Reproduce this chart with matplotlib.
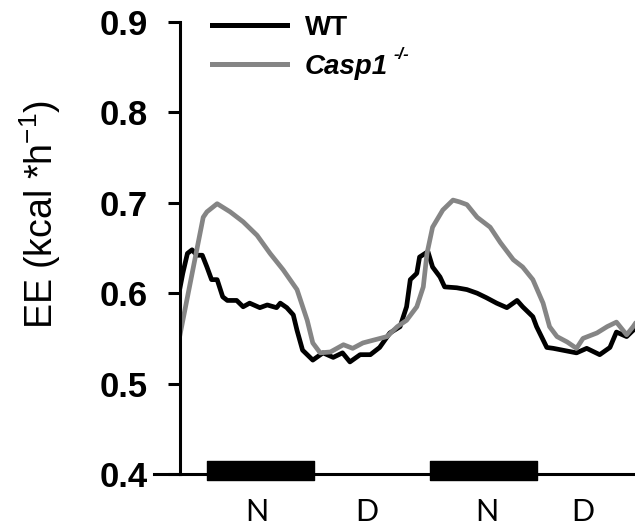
import matplotlib
matplotlib.use("Agg")
import matplotlib.pyplot as plt

plt.rcParams['font.family'] = ['Liberation Sans', 'DejaVu Sans']
plt.rcParams['mathtext.fontset'] = 'custom'
plt.rcParams['mathtext.rm'] = 'Liberation Sans'
plt.rcParams['mathtext.it'] = 'Liberation Sans:italic'
plt.rcParams['mathtext.bf'] = 'Liberation Sans:bold'

# energy expenditure traces, hours from start of recording
wt_h = [0, 0.3, 0.8, 1.3, 1.8, 2.4, 2.9, 3.4, 4.0, 4.6,
        5.1, 6.1, 6.8, 7.5, 8.6, 9.4, 10.4, 10.8, 11.5, 12.2,
        12.6, 13.2, 14.3, 15.4, 16.5, 17.5, 18.3, 19.4, 20.5, 21.5,
        22.6, 23.7, 24.4, 24.8, 25.5, 25.8, 26.7, 27.2, 28.0, 28.5,
        29.8, 30.9, 32.0, 33.0, 34.1, 35.2, 36.3, 36.9, 38.0, 38.4,
        39.5, 40.2, 41.2, 42.7, 43.8, 45.2, 46.3, 47.0, 48.1, 48.8, 49.0]
wt_ee = [0.606, 0.622, 0.644, 0.648, 0.642, 0.642, 0.629, 0.615, 0.615, 0.596,
         0.592, 0.592, 0.585, 0.589, 0.584, 0.587, 0.584, 0.589, 0.584, 0.576,
         0.559, 0.537, 0.526, 0.534, 0.529, 0.534, 0.524, 0.532, 0.532, 0.540,
         0.556, 0.563, 0.585, 0.615, 0.622, 0.640, 0.646, 0.629, 0.618, 0.607,
         0.606, 0.604, 0.600, 0.595, 0.589, 0.584, 0.592, 0.585, 0.574, 0.563,
         0.540, 0.539, 0.537, 0.534, 0.539, 0.532, 0.540, 0.557, 0.552, 0.559, 0.560]

ko_h = [0, 2.5, 2.9, 4.0, 5.4, 6.8, 8.3, 9.7, 11.1, 12.6,
        13.7, 14.3, 15.1, 16.2, 17.6, 18.6, 19.7, 20.8, 22.3, 23.4,
        24.4, 25.5, 26.2, 26.6, 27.2, 28.3, 29.4, 30.1, 30.9, 32.0,
        33.4, 34.5, 35.9, 36.9, 38.0, 39.1, 39.8, 40.6, 41.7, 42.7,
        43.4, 44.9, 46.0, 47.0, 48.1, 48.8, 49.0]
ko_ee = [0.554, 0.684, 0.690, 0.699, 0.690, 0.679, 0.664, 0.644, 0.626, 0.604,
         0.570, 0.545, 0.534, 0.535, 0.543, 0.539, 0.545, 0.548, 0.552, 0.563,
         0.570, 0.585, 0.607, 0.644, 0.673, 0.692, 0.703, 0.701, 0.698, 0.684,
         0.673, 0.656, 0.637, 0.629, 0.615, 0.589, 0.563, 0.552, 0.546, 0.539,
         0.550, 0.556, 0.563, 0.568, 0.554, 0.563, 0.566]

night_start = [2.9, 26.9]
night_len = [11.5, 11.5]
phase_pos = [8.3, 20.1, 33.0, 43.4]
phase_lab = ['N', 'D', 'N', 'D']
yticks = [0.4, 0.5, 0.6, 0.7, 0.8, 0.9]

fig = plt.figure(figsize=(6.35, 5.28), dpi=100)
ax = fig.add_axes([180/635, 54/528, 455/635, 452/528])

ax.plot(wt_h, wt_ee, color='black', lw=3.4, label='WT')
ax.plot(ko_h, ko_ee, color='#858585', lw=3.4, label='Casp1')

ax.set_xlim(0, 49)
ax.set_ylim(0.4, 0.9)
ax.set_yticks(yticks)
ax.set_yticklabels(['%.1f' % v for v in yticks], fontsize=25, fontweight='bold')
ax.set_xticks([])
ax.tick_params(axis='y', length=9, width=2.2, pad=14)
for s in ['top', 'right']:
    ax.spines[s].set_visible(False)
for s in ['left', 'bottom']:
    ax.spines[s].set_linewidth(2.2)
ax.axhline(0.4, xmin=-0.058, xmax=0, color='black', lw=2.2, clip_on=False)

# dark phase bars on the x axis
ax.broken_barh(list(zip(night_start, night_len)), (0.3934, 0.021),
               facecolor='black', edgecolor='black', clip_on=False, zorder=5)

for x, t in zip(phase_pos, phase_lab):
    ax.text(x, 0.358, t, ha='center', va='center', fontsize=22,
            family=['Lato', 'DejaVu Sans'], clip_on=False)

fig.text(40/635, 1 - 214/528, r'EE (kcal *h$^{\mathrm{-1}}$)', rotation=90,
         ha='center', va='center', fontsize=27)

leg = ax.legend(loc='upper left', bbox_to_anchor=(212/635, 1 - 15/528),
                bbox_transform=fig.transFigure, frameon=False, fontsize=20,
                handlelength=2.7, handletextpad=0.65, borderpad=0,
                borderaxespad=0, labelspacing=0.45)
for line in leg.get_lines():
    line.set_linewidth(3.6)
texts = leg.get_texts()
texts[0].set_fontweight('bold')
texts[1].set_fontweight('bold')
texts[1].set_style('italic')
ax.annotate('-/-', xy=(1, 0.68), xycoords=texts[1], xytext=(4, 0),
            textcoords='offset points', fontsize=12, fontweight='bold',
            style='italic', va='bottom', zorder=20)

fig.savefig('out.png', dpi=100)
